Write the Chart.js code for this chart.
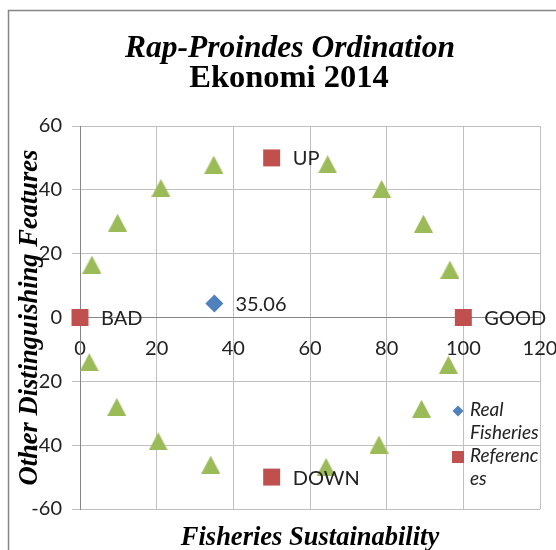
<!DOCTYPE html>
<html>
<head>
<meta charset="utf-8">
<title>Rap-Proindes Ordination</title>
<script src="https://cdn.jsdelivr.net/npm/chart.js@4.4.0/dist/chart.umd.min.js"></script>
<style>
  html, body { margin: 0; padding: 0; background: #fff; }
</style>
</head>
<body>
<canvas id="rapChart" width="556" height="550"></canvas>
<script>
// chart data
var titleText = 'Rap-Proindes Ordination';
var subtitleText = 'Ekonomi 2014';
var xTitle = 'Fisheries Sustainability';
var yTitle = 'Other Distinguishing Features';
var seriesNames = ['Real Fisheries', 'References'];

var realX = [35.06];
var realY = [4.4];

var refX = [0, 100, 50, 50];
var refY = [0, 0, 50, -50];
var refNames = ['BAD', 'GOOD', 'UP', 'DOWN'];

// anchor points (triangles)
var anchorX = [3.1, 9.8, 21.1, 34.9, 64.6, 78.7, 89.6, 96.5, 2.4, 9.6, 20.4, 34.1, 64.2, 78.0, 89.1, 96.1];
var anchorY = [16.6, 29.7, 40.6, 47.9, 48.0, 40.3, 29.4, 15.0, -14.0, -28.0, -38.8, -46.1, -46.8, -39.8, -28.6, -14.8];

var xTicks = [0, 20, 40, 60, 80, 100, 120];
var yTicks = [-60, -40, -20, 0, 20, 40, 60];

var BLUE = '#4f81bd', RED = '#c0504d', GREEN = '#9bbb59';
var SANS = 'Lato, "Liberation Sans", sans-serif';
var SERIF = '"Liberation Serif", "Times New Roman", serif';

function toPoints(xs, ys) {
    var pts = [];
    for (var i = 0; i < xs.length; i++) {
        pts.push({x: xs[i], y: ys[i]});
    }
    return pts;
}

// excel triangles sit centred in their box, chart.js ones don't, so use a small canvas
function makeTriangle(w, h, color) {
    var c = document.createElement('canvas');
    c.width = w;
    c.height = h;
    var g = c.getContext('2d');
    g.fillStyle = color;
    g.beginPath();
    g.moveTo(w / 2, 0);
    g.lineTo(w, h);
    g.lineTo(0, h);
    g.closePath();
    g.fill();
    return c;
}

// wrap a label into lines no wider than maxW (breaks words too, like excel does)
function wrapText(ctx, text, maxW) {
    var lines = [];
    var words = text.split(' ');
    var line = '';
    for (var i = 0; i < words.length; i++) {
        var test = line ? line + ' ' + words[i] : words[i];
        if (ctx.measureText(test).width <= maxW) {
            line = test;
            continue;
        }
        if (line) lines.push(line);
        line = '';
        var w = words[i];
        while (ctx.measureText(w).width > maxW) {
            var n = w.length - 1;
            while (n > 1 && ctx.measureText(w.substring(0, n)).width > maxW) n--;
            lines.push(w.substring(0, n));
            w = w.substring(n);
        }
        line = w;
    }
    if (line) lines.push(line);
    return lines;
}

var framePlugin = {
    id: 'frame',
    beforeDraw: function (chart) {
        var ctx = chart.ctx;
        ctx.save();
        ctx.fillStyle = '#fff';
        ctx.fillRect(0, 0, chart.width, chart.height);
        ctx.strokeStyle = '#868686';
        ctx.lineWidth = 1.5;
        ctx.strokeRect(8.5, 10.5, chart.width + 20, chart.height + 20);
        ctx.restore();
    }
};

var extrasPlugin = {
    id: 'extras',
    afterDraw: function (chart) {
        var ctx = chart.ctx;
        var area = chart.chartArea;
        var xs = chart.scales.x, ys = chart.scales.y;
        ctx.save();

        // title, centred on the excel chart box rather than the canvas
        ctx.fillStyle = '#000';
        ctx.textAlign = 'center';
        ctx.textBaseline = 'alphabetic';
        ctx.font = 'italic bold 31.5px ' + SERIF;
        ctx.fillText(titleText, 290, 57);
        ctx.font = 'bold 32.5px ' + SERIF;
        ctx.fillText(subtitleText, 289, 87);

        // point labels
        ctx.fillStyle = '#222';
        ctx.font = '20px ' + SANS;
        ctx.textAlign = 'left';
        ctx.textBaseline = 'middle';
        for (var i = 0; i < realX.length; i++) {
            ctx.fillText(realX[i].toFixed(2), xs.getPixelForValue(realX[i]) + 21, ys.getPixelForValue(realY[i]) + 1);
        }
        for (var j = 0; j < refX.length; j++) {
            ctx.fillText(refNames[j], xs.getPixelForValue(refX[j]) + 21, ys.getPixelForValue(refY[j]) + 1);
        }

        // axis titles
        ctx.fillStyle = '#000';
        ctx.font = 'italic bold 26.5px ' + SERIF;
        ctx.textAlign = 'center';
        ctx.textBaseline = 'alphabetic';
        ctx.fillText(xTitle, (area.left + area.right) / 2, 545);
        ctx.translate(37, (area.top + area.bottom) / 2);
        ctx.rotate(-Math.PI / 2);
        ctx.fillText(yTitle, 0, 0);
        ctx.setTransform(1, 0, 0, 1, 0, 0);

        // legend
        ctx.font = 'italic 19px ' + SANS;
        ctx.textAlign = 'left';
        ctx.textBaseline = 'middle';
        var lx = 458, ty = 410, lh = 23;
        var styles = ['rectRot', 'rect'];
        var sizes = [5.5, 8.5];
        for (var k = 0; k < seriesNames.length; k++) {
            var ds = chart.data.datasets[k];
            var lines = wrapText(ctx, seriesNames[k], 72);
            ctx.fillStyle = ds.backgroundColor;
            Chart.helpers.drawPoint(ctx, {pointStyle: styles[k], radius: sizes[k], borderWidth: 0}, lx, ty + 1);
            ctx.fillStyle = '#222';
            for (var m = 0; m < lines.length; m++) {
                ctx.fillText(lines[m], lx + 12, ty + m * lh);
            }
            ty += lines.length * lh;
        }
        ctx.restore();
    }
};

new Chart(document.getElementById('rapChart'), {
    type: 'scatter',
    data: {
        datasets: [
            {
                label: seriesNames[0],
                data: toPoints(realX, realY),
                pointStyle: 'rectRot',
                pointRadius: 9,
                backgroundColor: BLUE,
                borderColor: BLUE,
                borderWidth: 0,
                clip: false
            },
            {
                label: seriesNames[1],
                data: toPoints(refX, refY),
                pointStyle: 'rect',
                pointRadius: 12,
                backgroundColor: RED,
                borderColor: RED,
                borderWidth: 0,
                clip: false
            },
            {
                label: 'Anchors',
                data: toPoints(anchorX, anchorY),
                pointStyle: makeTriangle(19, 18, GREEN),
                pointRadius: 10,
                backgroundColor: GREEN,
                borderColor: GREEN,
                borderWidth: 0,
                clip: false
            }
        ]
    },
    options: {
        responsive: false,
        animation: false,
        layout: {padding: {top: 126, right: 16, bottom: 41, left: 20}},
        plugins: {
            legend: {display: false},
            tooltip: {enabled: false},
            title: {display: false}
        },
        scales: {
            x: {
                type: 'linear',
                position: {y: 0},
                min: 0,
                max: 120,
                afterBuildTicks: function (s) { s.ticks = xTicks.map(function (v) { return {value: v}; }); },
                afterFit: function (s) { s.paddingLeft = 0; s.paddingRight = 0; },
                ticks: {color: '#222', font: {family: SANS, size: 20}, padding: 11},
                grid: {color: '#c0c0c0', tickLength: 8},
                border: {color: '#868686'}
            },
            y: {
                type: 'linear',
                min: -60,
                max: 60,
                afterBuildTicks: function (s) { s.ticks = yTicks.map(function (v) { return {value: v}; }); },
                afterFit: function (s) { s.width = 60; s.paddingTop = 0; s.paddingBottom = 0; },
                ticks: {color: '#222', font: {family: SANS, size: 20}, padding: 10},
                grid: {color: '#c0c0c0', tickLength: 8},
                border: {color: '#868686'}
            }
        }
    },
    plugins: [framePlugin, extrasPlugin]
});
</script>
</body>
</html>
